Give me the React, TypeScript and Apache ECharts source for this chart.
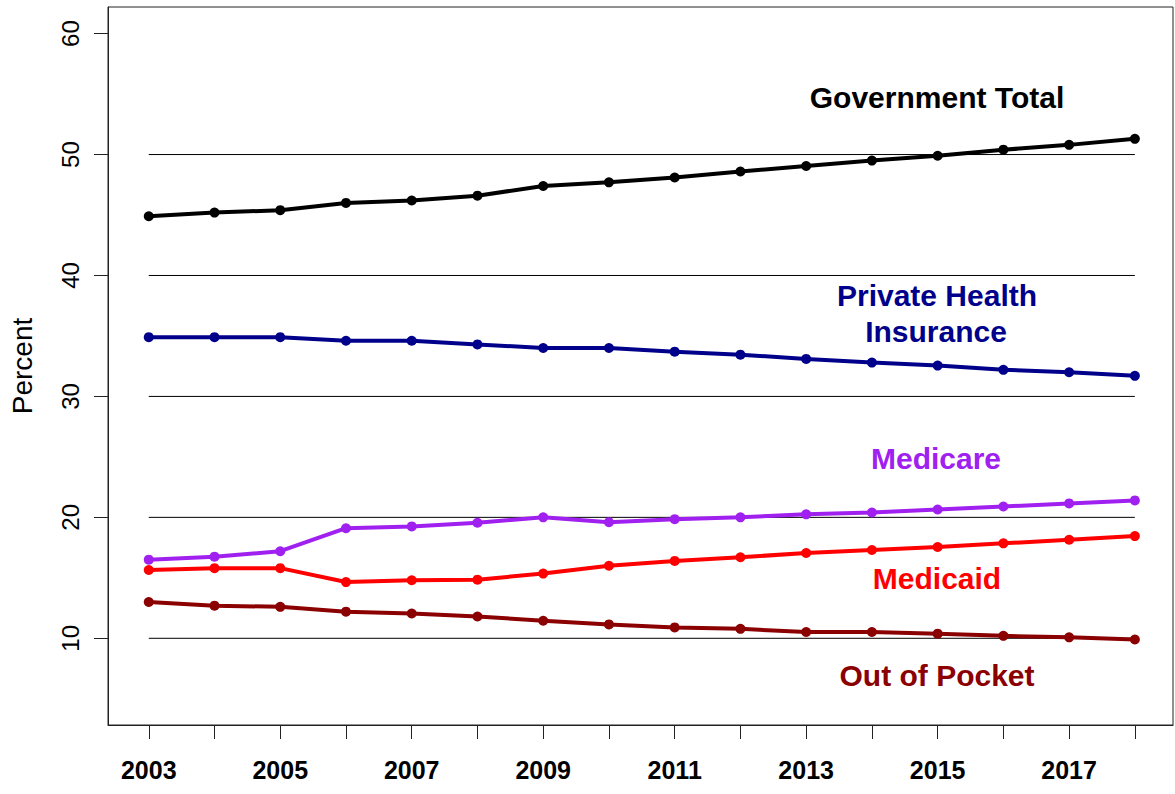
import React, { useEffect, useRef } from "react";
import * as echarts from "echarts";

const years = [2003, 2004, 2005, 2006, 2007, 2008, 2009, 2010, 2011, 2012, 2013, 2014, 2015, 2016, 2017, 2018];
const labelYears = [2003, 2005, 2007, 2009, 2011, 2013, 2015, 2017];
const yTicks = [10, 20, 30, 40, 50, 60];
const gridValues = [10, 20, 30, 40, 50];

const governmentTotal = [44.9, 45.2, 45.4, 46.0, 46.2, 46.6, 47.4, 47.7, 48.1, 48.6, 49.05, 49.5, 49.9, 50.4, 50.8, 51.3];
const privateInsurance = [34.9, 34.9, 34.9, 34.6, 34.6, 34.3, 34.0, 34.0, 33.7, 33.45, 33.1, 32.8, 32.55, 32.2, 32.0, 31.7];
const medicare = [16.5, 16.75, 17.2, 19.1, 19.25, 19.55, 20.0, 19.6, 19.85, 20.0, 20.25, 20.4, 20.65, 20.9, 21.15, 21.4];
const medicaid = [15.65, 15.8, 15.8, 14.65, 14.8, 14.85, 15.35, 16.0, 16.4, 16.7, 17.05, 17.3, 17.55, 17.85, 18.15, 18.45];
const outOfPocket = [13.0, 12.7, 12.6, 12.2, 12.05, 11.8, 11.45, 11.15, 10.9, 10.78, 10.52, 10.52, 10.38, 10.2, 10.08, 9.9];

const seriesDefs = [
  { name: "Government Total", values: governmentTotal, color: "#000000" },
  { name: "Private Health Insurance", values: privateInsurance, color: "#00008B" },
  { name: "Medicare", values: medicare, color: "#A020F0" },
  { name: "Medicaid", values: medicaid, color: "#FF0000" },
  { name: "Out of Pocket", values: outOfPocket, color: "#8B0000" },
];

const annotations = [
  { text: "Government Total", x: 937, y: 97, color: "#000000" },
  { text: "Private Health", x: 937, y: 295, color: "#00008B" },
  { text: "Insurance", x: 936, y: 331, color: "#00008B" },
  { text: "Medicare", x: 936, y: 458, color: "#A020F0" },
  { text: "Medicaid", x: 937, y: 578, color: "#FF0000" },
  { text: "Out of Pocket", x: 937, y: 675, color: "#8B0000" },
];

export default function App() {
  const ref = useRef<HTMLDivElement>(null);
  useEffect(() => {
    if (!ref.current) return;
    const chart = echarts.init(ref.current, null, { renderer: "svg" });
    const font = "'Liberation Sans', Arial, Helvetica, sans-serif";
    const gridSeries = gridValues.map((v) => ({
      type: "line",
      data: [[years[0], v], [years[years.length - 1], v]],
      symbol: "none",
      silent: true,
      z: 1,
      lineStyle: { color: "#000", width: 1 },
    }));
    const dataSeries = seriesDefs.map((s) => ({
      type: "line",
      name: s.name,
      data: years.map((y, i) => [y, s.values[i]]),
      symbol: "circle",
      symbolSize: 10,
      z: 3,
      lineStyle: { color: s.color, width: 4 },
      itemStyle: { color: s.color },
    }));
    chart.setOption({
      animation: false,
      backgroundColor: "#ffffff",
      grid: {
        left: 108,
        top: 7,
        right: 2,
        bottom: 69,
        show: true,
        borderColor: "#222",
        borderWidth: 1,
        backgroundColor: "transparent",
      },
      xAxis: {
        type: "value",
        min: 2002.38,
        max: 2018.58,
        splitLine: { show: false },
        axisLine: { show: true, lineStyle: { color: "#222", width: 1 } },
        axisTick: { show: true, length: 14, customValues: years, lineStyle: { color: "#222", width: 1 } },
        axisLabel: {
          customValues: labelYears,
          formatter: (v: number) => String(v),
          color: "#000",
          fontFamily: font,
          fontWeight: "bold",
          fontSize: 25,
          margin: 32,
        },
      },
      yAxis: {
        type: "value",
        min: 2.83,
        max: 62.2,
        name: "Percent",
        nameLocation: "middle",
        nameGap: 72,
        nameTextStyle: { color: "#000", fontFamily: font, fontSize: 28 },
        splitLine: { show: false },
        axisLine: { show: true, lineStyle: { color: "#222", width: 1 } },
        axisTick: { show: true, length: 14, customValues: yTicks, lineStyle: { color: "#222", width: 1 } },
        axisLabel: {
          customValues: yTicks,
          rotate: 90,
          formatter: (v: number) => String(v),
          color: "#000",
          fontFamily: font,
          fontSize: 24,
          margin: 26,
        },
      },
      graphic: annotations.map((a) => ({
        type: "text",
        x: a.x,
        y: a.y,
        z: 10,
        style: {
          text: a.text,
          fill: a.color,
          font: `bold 30px ${font}`,
          textAlign: "center",
          textVerticalAlign: "middle",
        },
      })),
      series: [...gridSeries, ...dataSeries],
    });
    return () => chart.dispose();
  }, []);
  return <div ref={ref} style={{ position: "fixed", left: 0, top: 0, width: 1175, height: 794 }} />;
}
